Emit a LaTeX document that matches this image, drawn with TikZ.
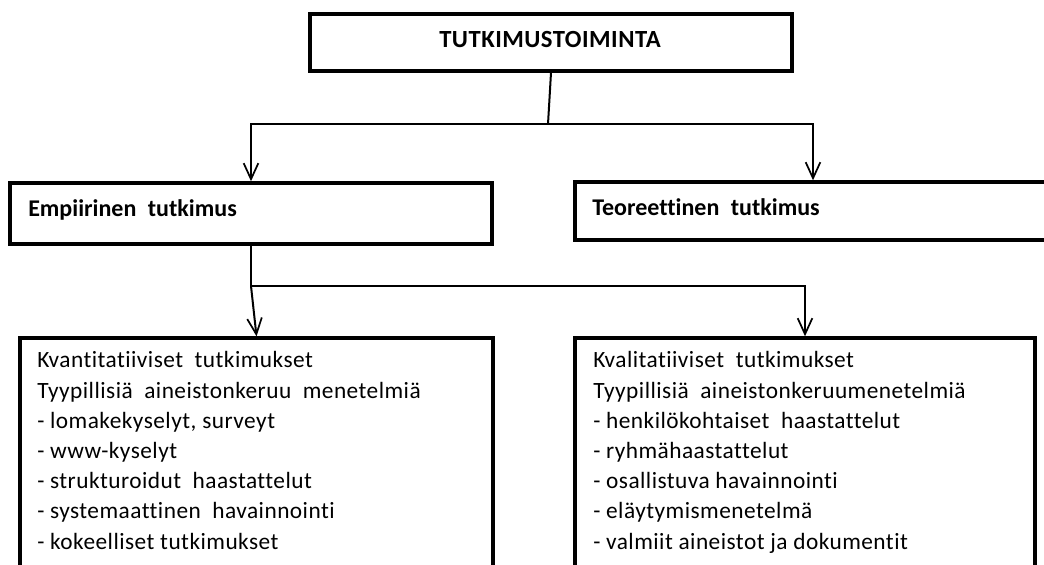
\documentclass[tikz,border=0pt]{standalone}
\usepackage{fontspec}
\setmainfont{Carlito}
\newfontfamily\bodyfont[LetterSpace=2,Ligatures=NoCommon]{Carlito}
\newfontfamily\headfont[LetterSpace=2,Ligatures=NoCommon]{Carlito}
\newfontfamily\subfont[Ligatures=NoCommon]{Carlito}
\usetikzlibrary{arrows.meta}
\newcommand\wsp{\hspace{0.25em}}
\begin{document}
\begin{tikzpicture}[x=0.75pt,y=-0.75pt,
  box/.style={draw, line width=2.6pt, rectangle, inner sep=0pt},
  conn/.style={line width=1.5pt},
  arr/.style={conn, -{Straight Barb[length=12pt,width=11pt,line width=1.3pt]}},
  maintitle/.style={font=\headfont\fontsize{18.5}{21}\selectfont\bfseries, inner sep=0pt, anchor=base},
  boxtitle/.style={font=\subfont\fontsize{18}{21}\selectfont\bfseries, inner sep=0pt, anchor=base west},
  body/.style={font=\bodyfont\fontsize{17.5}{22.65}\selectfont, inner sep=0pt, align=left, anchor=base west}]
\useasboundingbox (0,0) rectangle (1044,564);
\clip (0,0) rectangle (1044,564);
\fill[white] (0,0) rectangle (1044,564);
% boxes
\node[box, minimum width=361.5pt, minimum height=42.75pt] (top) at (551,42.5) {};
\node[box, minimum width=361.5pt, minimum height=45.75pt] (emp) at (251,213.5) {};
\node[box, minimum width=357pt, minimum height=43.5pt] (teo) at (813,211) {};
\node[box, minimum width=354.75pt, minimum height=211.5pt] (kvan) at (256.5,479) {};
\node[box, minimum width=345pt, minimum height=211.5pt] (kval) at (805,479) {};
% texts
\node[maintitle] (toptxt) at (550,47) {TUTKIMUSTOIMINTA};
\node[boxtitle] (emptxt) at (28,216) {Empiirinen\wsp{} tutkimus};
\node[boxtitle] (teotxt) at (592,215) {Teoreettinen\wsp{} tutkimus};
\node[body] (kvantxt) at (37,549) {Kvantitatiiviset\wsp{} tutkimukset\\
Tyypillisiä\wsp{} aineistonkeruu\wsp{} menetelmiä\\
- lomakekyselyt, surveyt\\
- www-kyselyt\\
- strukturoidut\wsp{} haastattelut\\
- systemaattinen\wsp{} havainnointi\\
- kokeelliset tutkimukset};
\node[body] (kvaltxt) at (593,549) {Kvalitatiiviset\wsp{} tutkimukset\\
Tyypillisiä\wsp{} aineistonkeruumenetelmiä\\
- henkilökohtaiset\wsp{} haastattelut\\
- ryhmähaastattelut\\
- osallistuva havainnointi\\
- eläytymismenetelmä\\
- valmiit aineistot ja dokumentit};
% connectors
\coordinate (j1) at (548,124);
\coordinate (j2) at (251,286);
\draw[conn] (top.south) -- (j1);
\draw[arr] (j1) -| (emp.north);
\draw[arr] (j1) -| (teo.north);
\draw[conn] (emp.south) -- (j2);
\draw[arr] (j2) -- (kvan.north);
\draw[arr] (j2) -| (kval.north);
\end{tikzpicture}
\end{document}
